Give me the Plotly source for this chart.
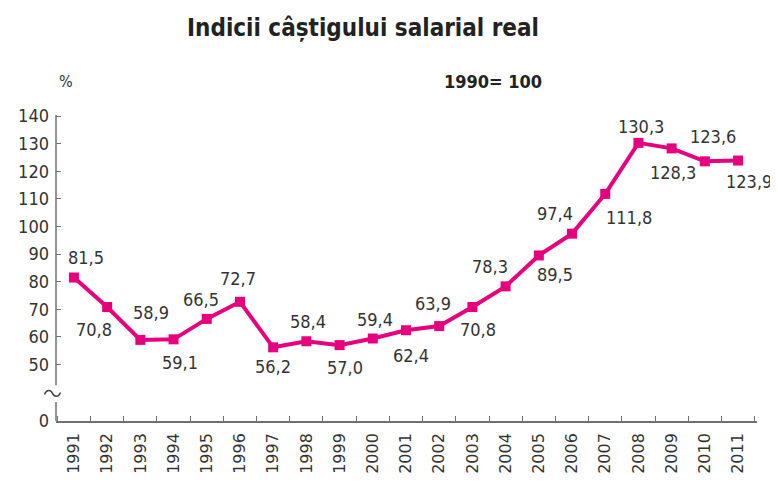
import plotly.graph_objects as go

# ---- data ----
years = [str(y) for y in range(1991, 2012)]
values = [81.5, 70.8, 58.9, 59.1, 66.5, 72.7, 56.2, 58.4, 57.0, 59.4, 62.4,
          63.9, 70.8, 78.3, 89.5, 97.4, 111.8, 130.3, 128.3, 123.6, 123.9]
ytick_vals = [50, 60, 70, 80, 90, 100, 110, 120, 130, 140]

# ---- layout constants (style / positions) ----
FONT = "DejaVu Sans Condensed, Liberation Sans Narrow, sans-serif"
FONT_WIDE = "DejaVu Sans, sans-serif"
MAGENTA = "#e6007e"
TXT = "#333333"
AXC = "#707070"
Y_BOTTOM = 29.5   # value position of the "0" tick (broken axis)
Y_TOP = 140.4
W, H = 770, 475   # page body has 8px margin inside the 778x483 window

# label offsets in px (dx right, dy down)
label_offsets = [(12, -20), (-13, 22), (11, -27), (6, 23), (-6, -19), (-2, -23),
                 (0, 19), (2, -20), (5, 22), (2, -19), (5, 25), (-6, -23),
                 (6, 22), (-16, -20), (16, 19), (-17, -20), (24, 24), (3, -16),
                 (1, 24), (8, -25), (11, 21)]

fig = go.Figure()
fig.add_trace(go.Scatter(
    x=years, y=values, mode="lines+markers",
    line=dict(color=MAGENTA, width=4),
    marker=dict(symbol="square", size=10, color=MAGENTA),
    hoverinfo="x+y", showlegend=False,
))

annotations = []
for i, (v, (dx, dy)) in enumerate(zip(values, label_offsets)):
    annotations.append(dict(
        x=i, y=v, xref="x", yref="y", text=f"{v:.1f}".replace(".", ","),
        showarrow=False, xanchor="center", yanchor="middle",
        xshift=dx, yshift=-dy, font=dict(family=FONT, size=18, color=TXT),
    ))

annotations.append(dict(x=0.014, y=1.108, xref="paper", yref="paper", text="%",
                        showarrow=False, xanchor="center", yanchor="middle",
                        font=dict(family=FONT, size=16, color=TXT)))
annotations.append(dict(x=0.623, y=1.108, xref="paper", yref="paper",
                        text="<b>1990= 100</b>", showarrow=False,
                        xanchor="center", yanchor="middle",
                        font=dict(family=FONT, size=18, color="#222222")))

shapes = [
    # y axis drawn in two pieces (broken axis)
    dict(type="line", xref="paper", yref="paper", x0=0, x1=0, y0=0, y1=0.062,
         line=dict(color=AXC, width=1.5)),
    dict(type="line", xref="paper", yref="paper", x0=0, x1=0, y0=0.117, y1=1,
         line=dict(color=AXC, width=1.5)),
    # break mark
    dict(type="path", xref="paper", yref="paper", xsizemode="pixel", ysizemode="pixel",
         xanchor=-0.005, yanchor=0.09,
         path="M -8,-1 C -6,4 -2,4 0,0 C 2,-4 6,-4 8,1",
         line=dict(color="#444444", width=1.5)),
]

fig.update_layout(
    width=W, height=H,
    margin=dict(l=48, r=21, t=107, b=62, autoexpand=False),
    paper_bgcolor="white", plot_bgcolor="white",
    title=dict(text="<b>Indicii câștigului salarial real</b>", x=355 / W, xanchor="center",
               y=1 - 20 / H, yanchor="middle", xref="container", yref="container",
               font=dict(family=FONT, size=24, color="#222222")),
    annotations=annotations,
    shapes=shapes,
    xaxis=dict(
        type="category", range=[-0.54, 20.57], showgrid=False, zeroline=False,
        showline=True, linecolor=AXC, linewidth=1.5, automargin=False,
        ticks="inside", ticklen=5, tickcolor=AXC, tickson="boundaries",
        tickangle=-90, ticklabelstandoff=4,
        tickfont=dict(family=FONT_WIDE, size=16, color=TXT),
    ),
    yaxis=dict(
        range=[Y_BOTTOM, Y_TOP], showgrid=False, zeroline=False, showline=False,
        tickmode="array", tickvals=[Y_BOTTOM] + ytick_vals, automargin=False,
        ticktext=["0"] + [str(v) for v in ytick_vals],
        ticks="inside", ticklen=5, tickcolor=AXC, ticklabelstandoff=6,
        tickfont=dict(family=FONT, size=18, color=TXT),
    ),
)

fig.write_html("out.html")
